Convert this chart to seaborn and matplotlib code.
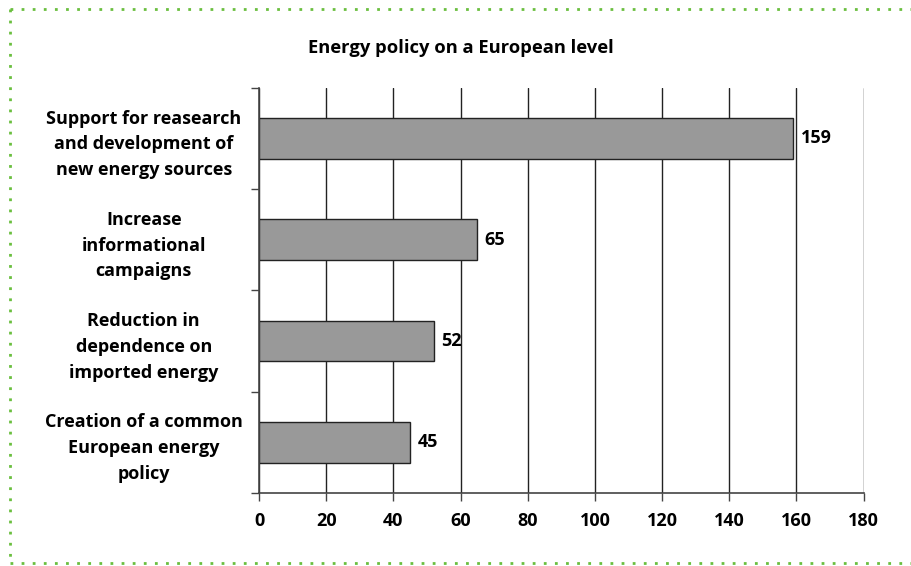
import matplotlib
matplotlib.use("Agg")
import matplotlib.pyplot as plt
import seaborn as sns
import pandas as pd
import numpy as np
from matplotlib.lines import Line2D

# data
categories = ["Support for reasearch\nand development of\nnew energy sources",
              "Increase\ninformational\ncampaigns",
              "Reduction in\ndependence on\nimported energy",
              "Creation of a common\nEuropean energy\npolicy"]
values = [159, 65, 52, 45]
x_ticks = [0, 20, 40, 60, 80, 100, 120, 140, 160, 180]
title = "Energy policy on a European level"

df = pd.DataFrame({"category": categories, "value": values})

sns.set_style("white")
plt.rcParams["font.family"] = ["Open Sans", "DejaVu Sans"]
plt.rcParams["font.weight"] = "bold"
plt.rcParams["text.color"] = "black"
plt.rcParams["xtick.labelcolor"] = "black"
plt.rcParams["ytick.labelcolor"] = "black"
fs = 13

fig = plt.figure(figsize=(9.12, 5.66), dpi=100)
ax = fig.add_axes([0.284, 0.129, 0.663, 0.716])

sns.barplot(data=df, x="value", y="category", orient="h", color="#999999",
            edgecolor="#222222", linewidth=1.0, width=0.4, saturation=1, ax=ax)

ax.set_xlim(0, 180)
ax.set_ylim(3.5, -0.5)
ax.set_xticks(x_ticks)
ax.set_xticklabels([str(t) for t in x_ticks], fontsize=fs, fontweight="bold")
ax.set_xlabel("")
ax.set_ylabel("")

# category labels at bar centres, tick marks at the separators
ax.set_yticks(range(len(categories)))
ax.set_yticklabels(categories, fontsize=fs, fontweight="bold", ha="center",
                   linespacing=1.55)
ax.tick_params(axis="y", length=0, pad=83)
ax.set_yticks(np.arange(-0.5, len(categories), 1.0), minor=True)
ax.tick_params(axis="y", which="minor", length=6, width=1, color="#444444", direction="out", left=True)
ax.tick_params(axis="x", length=6, width=1, color="#444444", direction="out", bottom=True, pad=8)

ax.grid(axis="x", color="#222222", linewidth=1.0)
ax.set_axisbelow(True)
for s in ["top", "right"]:
    ax.spines[s].set_visible(False)
for s in ["left", "bottom"]:
    ax.spines[s].set_color("#444444")
    ax.spines[s].set_linewidth(1.2)

for i, v in enumerate(values):
    ax.text(v + 2.2, i, str(v), va="center", ha="left", fontsize=fs, fontweight="bold")

fig.text(0.505, 0.915, title, ha="center", va="center", fontsize=13.2, fontweight="bold")

# dotted green frame
green = "#6abf3f"
kw = dict(color=green, linestyle=(0, (1, 3)), linewidth=2, transform=fig.transFigure)
fig.add_artist(Line2D([10 / 912, 1.0], [1 - 9 / 566, 1 - 9 / 566], **kw))
fig.add_artist(Line2D([10 / 912, 10 / 912], [1 - 9 / 566, 1 - 563 / 566], **kw))
fig.add_artist(Line2D([10 / 912, 1.0], [1 - 563 / 566, 1 - 563 / 566], **kw))

fig.savefig("out.png", dpi=100)
